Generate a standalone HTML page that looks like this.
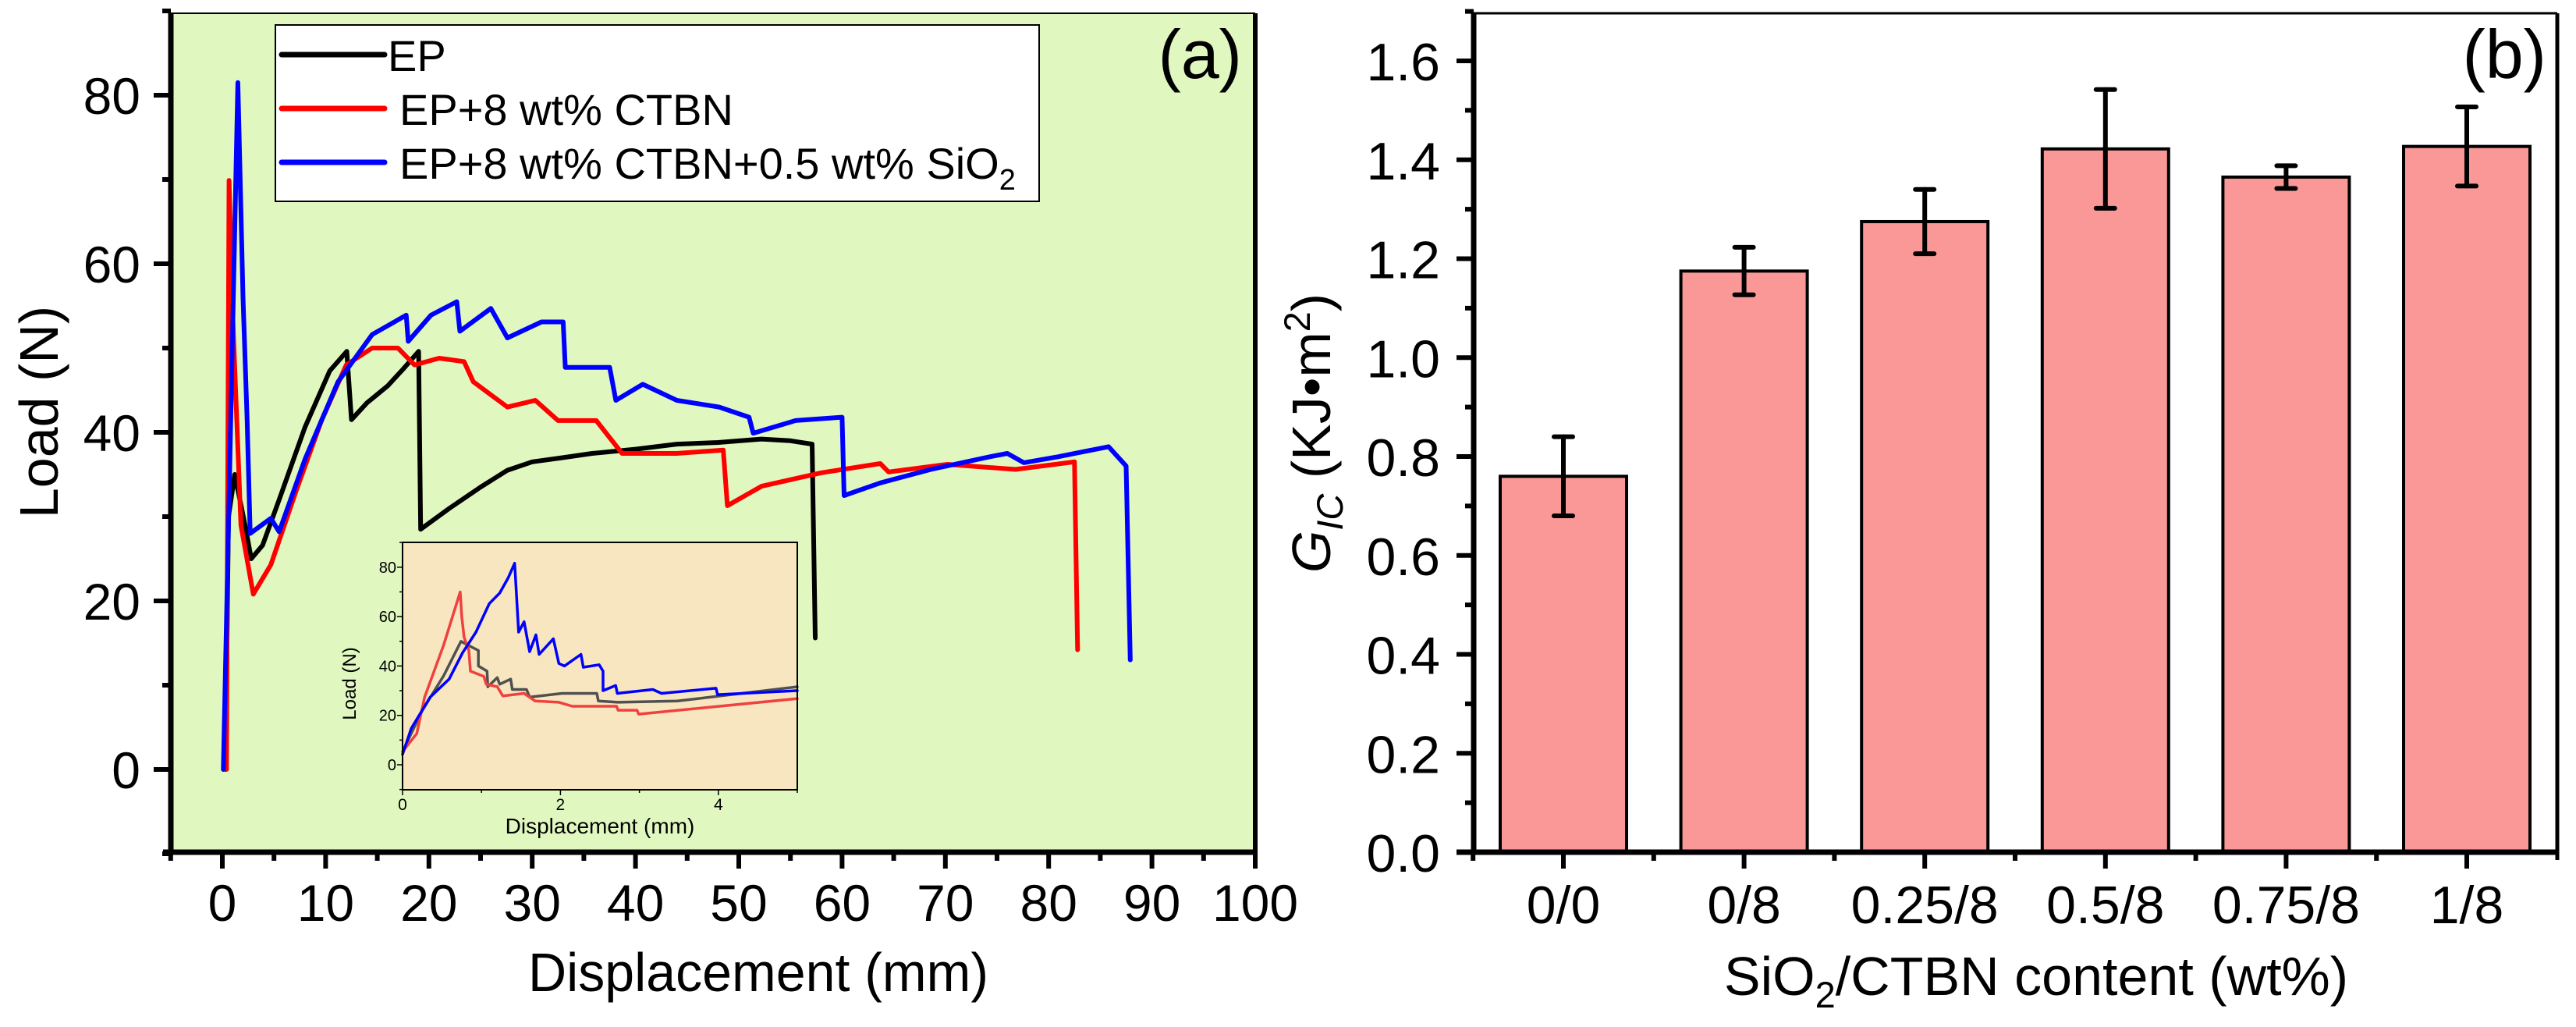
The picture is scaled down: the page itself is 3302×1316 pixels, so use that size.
<!DOCTYPE html>
<html><head><meta charset="utf-8"><style>
html,body{margin:0;padding:0;background:#fff;width:3302px;height:1316px;overflow:hidden}
svg{display:block;font-family:"Liberation Sans",Arial,sans-serif}
</style></head><body>
<svg id="fig" width="3302" height="1316" viewBox="0 0 3302 1316" xmlns="http://www.w3.org/2000/svg"></svg>
<script>
// ---------- Panel (a) data: displacement (mm) / load (N) ----------
const epX = [0.3,0.6,1.2,2.2,2.8,3.9,5.5,8,10.4,12.05,12.5,14,16,17.5,19,19.2,22,25,27.6,30,33,35.8,40,44,48,52.2,55,57.1,57.4];
const epY = [0,30,35,29,25,26.6,32,40.6,47.3,49.6,41.5,43.5,45.5,47.5,49.6,28.5,31,33.5,35.5,36.5,37,37.5,38,38.6,38.8,39.2,39,38.6,15.6];
const ctbnX = [0.4,0.65,1,1.8,3,4.7,7.1,9.6,12,14.5,17,18.6,21,23.4,24.3,27.6,30.3,32.5,36.2,38.7,44,48.5,48.9,52.2,58,63.7,64.5,70.2,76.8,82.5,82.8];
const ctbnY = [0,69.9,54,29,20.8,24.3,32.9,41.4,48,50,50,48,48.8,48.4,46,43,43.8,41.4,41.4,37.5,37.5,37.9,31.3,33.6,35.2,36.3,35.3,36.2,35.6,36.5,14.2];
const sioX = [0.1,1.5,2,2.4,2.7,4.7,5.5,8,11.2,14.5,17.8,18,20.2,22.7,23,26,27.6,30.9,33,33.2,37.5,38.1,40.7,44,48.1,51,51.4,55.5,60,60.2,63.7,68.6,74.3,76,77.6,80.9,85.8,87.5,87.9];
const sioY = [0,81.5,56,41.4,28,29.8,28.2,36.8,46,51.6,53.9,50.8,53.9,55.5,52,54.7,51.2,53.1,53.1,47.7,47.7,43.8,45.7,43.8,43,41.8,39.9,41.4,41.8,32.5,34,35.6,37.1,37.5,36.4,37.1,38.3,36,13];
const aXTicks = [0,10,20,30,40,50,60,70,80,90,100];
const aYTicks = [0,20,40,60,80];
// inset data
const inEpX = [0,0.25,0.52,0.74,0.83,0.96,0.96,1.07,1.08,1.2,1.23,1.37,1.39,1.57,1.61,2.02,2.46,2.48,2.73,3.48,5];
const inEpY = [5.3,22,36,50,48.4,46.3,40,37.9,31.6,35.3,32.6,34.7,30.5,30.5,27.4,28.9,28.9,25.8,25.3,25.8,31.6];
const inCtX = [0,0.18,0.28,0.52,0.73,0.75,0.78,0.84,0.86,1.03,1.06,1.2,1.27,1.54,1.68,1.98,2.15,2.71,2.73,2.97,2.99,5];
const inCtY = [5.3,12.6,27.4,48.4,70,60,51.6,46.3,37.9,35.8,32.6,31.6,27.9,28.9,25.8,25.3,23.7,23.7,22.1,22.1,20.5,26.8];
const inSiX = [0,0.11,0.35,0.59,0.76,0.93,1.1,1.23,1.34,1.42,1.47,1.54,1.61,1.69,1.73,1.91,1.98,2.05,2.26,2.29,2.49,2.54,2.54,2.7,2.72,3.17,3.28,3.97,3.99,5];
const inSiY = [4.2,14.7,27.4,34.7,45.3,53.7,65.3,69.5,75.8,81.6,53.7,57.9,45.8,52.6,44.7,51,41,40,44.7,39.5,40.5,37.9,30,32.1,28.9,30.5,28.9,31,28.4,30];
const inXTicks = [0,2,4];
const inYTicks = [0,20,40,60,80];
// ---------- Panel (b) data ----------
const categories = ["0/0","0/8","0.25/8","0.5/8","0.75/8","1/8"];
const gicValues = [0.76,1.175,1.275,1.422,1.365,1.427];
const gicErrors = [0.08,0.048,0.065,0.12,0.023,0.08];
const bYTicks = [0.0,0.2,0.4,0.6,0.8,1.0,1.2,1.4,1.6];

const NS = "http://www.w3.org/2000/svg";
const svg = document.getElementById('fig');
function mk(tag, attrs, parent, text){
  const e = document.createElementNS(NS, tag);
  for (const k in attrs) e.setAttribute(k, attrs[k]);
  if (text !== undefined) e.textContent = text;
  (parent || svg).appendChild(e);
  return e;
}

// ===== Panel A =====
const gA = mk('g', {});


const aL = 219, aR = 1609, aT = 17, aB = 1092;
const ax = v => 285 + (v) * 13.24;
const ay = v => 986 - v * 10.8;
const bgA = mk('rect', {x:aL, y:aT, width:aR-aL, height:aB-aT, fill:'#e0f8c0'}, gA);



for (let v = -5; v <= 100; v += 5) {
  const major = v % 10 === 0;
  const t = mk('line', {x1:ax(v), x2:ax(v), y1:aB, y2:aB + (major ? 21 : 11), stroke:'#000', 'stroke-width':6}, gA);
  
  
}
aXTicks.forEach(v => {
  const t = mk('text', {x:ax(v), y:1180, 'font-size':66, 'text-anchor':'middle'}, gA, String(v));
  
  
});
for (let v = -10; v <= 90; v += 10) {
  const major = v % 20 === 0 && v >= 0;
  const t = mk('line', {x1:aL - (major ? 22 : 11), x2:aL, y1:ay(v), y2:ay(v), stroke:'#000', 'stroke-width':6}, gA);
  
  
}
aYTicks.forEach(v => {
  const t = mk('text', {x:180, y:ay(v) + 24, 'font-size':66, 'text-anchor':'end'}, gA, String(v));
  
  
});

function series(xs, ys, fx, fy, color, w, parent, name){
  const pts = xs.map((x,i) => fx(x).toFixed(1) + ',' + fy(ys[i]).toFixed(1)).join(' ');
  const p = mk('polyline', {points:pts, fill:'none', stroke:color, 'stroke-width':w, 'stroke-linejoin':'round', 'stroke-linecap':'round'}, parent);
  
  
  return p;
}
series(epX, epY, ax, ay, '#000000', 6, gA, 'line-ep');
series(ctbnX, ctbnY, ax, ay, '#ff0000', 6, gA, 'line-ep-ctbn');
series(sioX, sioY, ax, ay, '#0000ff', 6, gA, 'line-ep-ctbn-sio2');

const fa1 = mk('line', {x1:aL, x2:aR, y1:aT, y2:aT, stroke:'#000', 'stroke-width':2}, gA);
 
const fa2 = mk('line', {x1:aR, x2:aR, y1:aT, y2:aB, stroke:'#000', 'stroke-width':6}, gA);
 
const fa3 = mk('line', {x1:aL, x2:aL, y1:aT, y2:aB+3, stroke:'#000', 'stroke-width':7}, gA);
 
const fa4 = mk('line', {x1:aL-10, x2:aR+3, y1:aB, y2:aB, stroke:'#000', 'stroke-width':7}, gA);
 

const xtA = mk('text', {x:972, y:1270, 'font-size':70, 'text-anchor':'middle', textLength:590, lengthAdjust:'spacingAndGlyphs'}, gA, 'Displacement (mm)');
 
const ytA = mk('text', {x:0, y:0, 'font-size':70, 'text-anchor':'middle', transform:'translate(74,528) rotate(-90)'}, gA, 'Load (N)');
 
const la = mk('text', {x:1592, y:100, 'font-size':88, 'text-anchor':'end'}, gA, '(a)');
 

const lg = mk('g', {}, gA);
 
mk('rect', {x:353, y:32, width:979, height:226, fill:'#fff', stroke:'#000', 'stroke-width':2}, lg);
const legItems = [
  {c:'#000000', y:70, tx:497, name:'legend-entry-ep', html:'EP'},
  {c:'#ff0000', y:139, tx:512, name:'legend-entry-ep-ctbn', html:'EP+8 wt% CTBN'},
  {c:'#0000ff', y:208, tx:512, name:'legend-entry-ep-ctbn-sio2', html:null}
];
legItems.forEach(it => {
  const g = mk('g', {}, lg);
  
  
  mk('line', {x1:361, x2:493, y1:it.y, y2:it.y, stroke:it.c, 'stroke-width':7, 'stroke-linecap':'round'}, g);
  const t = mk('text', {x:it.tx, y:it.y + 21, 'font-size':56}, g);
  if (it.html) t.textContent = it.html;
  else {
    t.textContent = 'EP+8 wt% CTBN+0.5 wt% SiO';
    mk('tspan', {'font-size':38, dy:14}, t, '2');
  }
});

const gI = mk('g', {}, gA);
 
const iL = 516, iR = 1022, iT = 695, iB = 1012;
const ix = v => iL + v * 101.2;
const iy = v => 980 - v * 3.165;
mk('rect', {x:iL, y:iT, width:iR-iL, height:iB-iT, fill:'#f8e6c0'}, gI);
for (let v = 0; v <= 5; v += 1) {
  const t = mk('line', {x1:ix(v), x2:ix(v), y1:iB, y2:iB + (v % 2 === 0 ? 7 : 4), stroke:'#000', 'stroke-width':1.5}, gI);
   
}
inXTicks.forEach(v => {
  const t = mk('text', {x:ix(v), y:1038, 'font-size':21, 'text-anchor':'middle'}, gI, String(v));
   
});
for (let v = -10; v <= 90; v += 10) {
  const maj = v % 20 === 0 && v >= 0;
  const t = mk('line', {x1:iL - (maj ? 7 : 4), x2:iL, y1:iy(v), y2:iy(v), stroke:'#000', 'stroke-width':1.5}, gI);
   
}
inYTicks.forEach(v => {
  const t = mk('text', {x:508, y:iy(v) + 7, 'font-size':20, 'text-anchor':'end'}, gI, String(v));
   
});
series(inEpX, inEpY, ix, iy, '#505050', 3.5, gI, 'inset-line-ep');
series(inCtX, inCtY, ix, iy, '#f04040', 3.5, gI, 'inset-line-ep-ctbn');
series(inSiX, inSiY, ix, iy, '#0000ff', 3.5, gI, 'inset-line-ep-ctbn-sio2');
mk('rect', {x:iL, y:iT, width:iR-iL, height:iB-iT, fill:'none', stroke:'#000', 'stroke-width':2}, gI);
const ixt = mk('text', {x:769, y:1068, 'font-size':28, 'text-anchor':'middle'}, gI, 'Displacement (mm)');
 
const iyt = mk('text', {x:0, y:0, 'font-size':24, 'text-anchor':'middle', transform:'translate(456,876) rotate(-90)'}, gI, 'Load (N)');
 

// ===== Panel B =====
const gB = mk('g', {});


const bL = 1889, bR = 3278, bT = 17, bB = 1092;
const bx = i => 2004 + i * 231.6;
const by = v => 1092 - v * 633.75;
const barW = 162;
for (let i = 0; i <= 11; i++) {
  const v = -0.5 + i * 0.5;
  const major = i % 2 === 1;
  const t = mk('line', {x1:bx(v), x2:bx(v), y1:bB, y2:bB + (major ? 21 : 11), stroke:'#000', 'stroke-width':6}, gB);
   
}
for (let i = 0; i <= 17; i++) {
  const v = i * 0.1;
  const major = i % 2 === 0 && i <= 16;
  const t = mk('line', {x1:bL - (major ? 22 : 11), x2:bL, y1:by(v), y2:by(v), stroke:'#000', 'stroke-width':6}, gB);
   
}
bYTicks.forEach(v => {
  const t = mk('text', {x:1846, y:by(v) + 25, 'font-size':68, 'text-anchor':'end'}, gB, v.toFixed(1));
   
});
categories.forEach((c, i) => {
  const t = mk('text', {x:bx(i), y:1183, 'font-size':68, 'text-anchor':'middle'}, gB, c);
   
});
gicValues.forEach((v, i) => {
  const r = mk('rect', {x:bx(i) - barW/2, y:by(v), width:barW, height:by(0) - by(v), fill:'#fa9898', stroke:'#000', 'stroke-width':4}, gB);
  
  
});
gicValues.forEach((v, i) => {
  const e = gicErrors[i];
  const g = mk('g', {stroke:'#000', 'stroke-width':6, 'stroke-linecap':'round'}, gB);
  
  
  mk('line', {x1:bx(i), x2:bx(i), y1:by(v + e), y2:by(v - e)}, g);
  mk('line', {x1:bx(i) - 12, x2:bx(i) + 12, y1:by(v + e), y2:by(v + e)}, g);
  mk('line', {x1:bx(i) - 12, x2:bx(i) + 12, y1:by(v - e), y2:by(v - e)}, g);
});
const fb1 = mk('line', {x1:bL, x2:bR, y1:bT, y2:bT, stroke:'#000', 'stroke-width':3}, gB);
 
const fb2 = mk('line', {x1:bR, x2:bR, y1:bT, y2:bB + 10, stroke:'#000', 'stroke-width':5}, gB);
 
const fb3 = mk('line', {x1:bL, x2:bL, y1:bT, y2:bB + 3, stroke:'#000', 'stroke-width':7}, gB);
 
const fb4 = mk('line', {x1:bL - 22, x2:bR + 2, y1:bB, y2:bB, stroke:'#000', 'stroke-width':7}, gB);
 

const xtB = mk('text', {x:2610, y:1275, 'font-size':70, 'text-anchor':'middle'}, gB);
 
xtB.appendChild(document.createTextNode('SiO'));
mk('tspan', {'font-size':47, dy:16}, xtB, '2');
mk('tspan', {dy:-16}, xtB, '/CTBN content (wt%)');
const ytB = mk('text', {x:0, y:0, 'font-size':70, 'text-anchor':'middle', transform:'translate(1705,555) rotate(-90)'}, gB);
 
mk('tspan', {'font-style':'italic'}, ytB, 'G');
mk('tspan', {'font-style':'italic', 'font-size':47, dy:16}, ytB, 'IC');
mk('tspan', {dy:-16}, ytB, ' (KJ\u2022m');
mk('tspan', {'font-size':47, dy:-26}, ytB, '2');
mk('tspan', {dy:26}, ytB, ')');
const lb = mk('text', {x:3264, y:100, 'font-size':88, 'text-anchor':'end'}, gB, '(b)');
 
</script>
</body></html>
